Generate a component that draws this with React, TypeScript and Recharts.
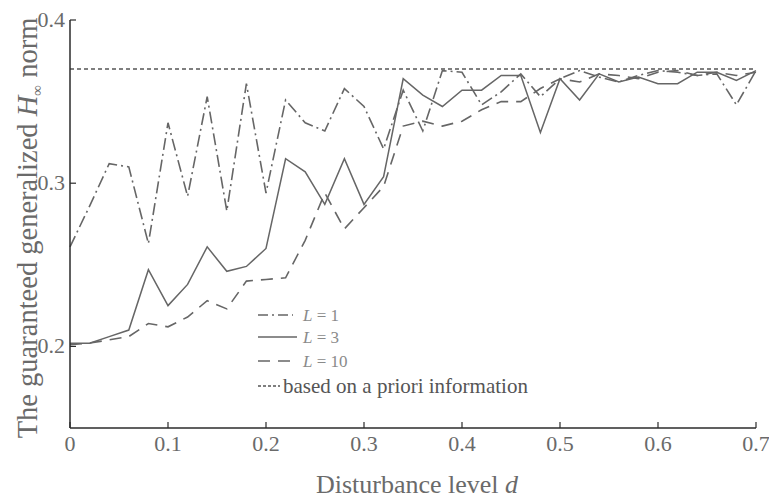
import React from "react";
import {
  LineChart,
  Line,
  XAxis,
  YAxis,
  ReferenceLine,
  Legend,
} from "recharts";

// disturbance level d (x categories)
const dLevels = [
  0, 0.02, 0.04, 0.06, 0.08, 0.1, 0.12, 0.14, 0.16, 0.18, 0.2, 0.22, 0.24,
  0.26, 0.28, 0.3, 0.32, 0.34, 0.36, 0.38, 0.4, 0.42, 0.44, 0.46, 0.48, 0.5,
  0.52, 0.54, 0.56, 0.58, 0.6, 0.62, 0.64, 0.66, 0.68, 0.7,
];

// guaranteed generalized H-inf norm, L = 1
const normL1 = [
  0.261, 0.286, 0.312, 0.31, 0.263, 0.337, 0.292, 0.353, 0.283, 0.361, 0.294,
  0.351, 0.337, 0.332, 0.358, 0.347, 0.321, 0.357, 0.332, 0.369, 0.368, 0.348,
  0.356, 0.367, 0.353, 0.364, 0.369, 0.365, 0.362, 0.366, 0.369, 0.368, 0.366,
  0.367, 0.348, 0.369,
];

// L = 3
const normL3 = [
  0.202, 0.202, 0.206, 0.21, 0.247, 0.225, 0.238, 0.261, 0.246, 0.249, 0.26,
  0.315, 0.307, 0.287, 0.315, 0.287, 0.304, 0.364, 0.354, 0.347, 0.357, 0.357,
  0.366, 0.366, 0.331, 0.364, 0.351, 0.367, 0.362, 0.365, 0.361, 0.361, 0.368,
  0.368, 0.363, 0.369,
];

// L = 10
const normL10 = [
  0.201, 0.202, 0.204, 0.206, 0.214, 0.212, 0.218, 0.228, 0.223, 0.24, 0.241,
  0.242, 0.265, 0.294, 0.272, 0.285, 0.298, 0.335, 0.338, 0.335, 0.338, 0.345,
  0.35, 0.35, 0.358, 0.364, 0.362, 0.367, 0.366, 0.364, 0.368, 0.369, 0.366,
  0.368, 0.366, 0.368,
];

const aPriori = 0.37;

const xTicks = [0, 0.1, 0.2, 0.3, 0.4, 0.5, 0.6, 0.7];
const xTickLabels = ["0", "0.1", "0.2", "0.3", "0.4", "0.5", "0.6", "0.7"];
const yTicks = [0.2, 0.3, 0.4];
const yTickLabels = ["0.2", "0.3", "0.4"];

const data = dLevels.map((d, i) => ({
  d,
  l1: normL1[i],
  l3: normL3[i],
  l10: normL10[i],
}));

const FONT = "'Liberation Serif', 'Times New Roman', serif";
const LINE = "#666666";
const AXIS = "#2b2b2b";
const TEXT = "#6a6a6a";

const XTick = (props: any) => {
  const { x, y, payload } = props;
  const idx = xTicks.indexOf(payload.value);
  return (
    <text x={x} y={y + 23} textAnchor="middle" fontSize={22} fontFamily={FONT} fill={TEXT}>
      {idx >= 0 ? xTickLabels[idx] : payload.value}
    </text>
  );
};

const YTick = (props: any) => {
  const { x, y, payload } = props;
  const idx = yTicks.indexOf(payload.value);
  return (
    <text x={x - 5} y={y + 7} textAnchor="end" fontSize={22} fontFamily={FONT} fill={TEXT}>
      {idx >= 0 ? yTickLabels[idx] : payload.value}
    </text>
  );
};

const XTitle = (props: any) => {
  const vb = props.viewBox || { x: 70, y: 428, width: 686 };
  return (
    <text
      x={vb.x + vb.width / 2 + 4}
      y={vb.y + 65}
      textAnchor="middle"
      fontSize={26}
      fontFamily={FONT}
      fill={TEXT}
    >
      Disturbance level <tspan fontStyle="italic">d</tspan>
    </text>
  );
};

const YTitle = () => {
  const cx = 37;
  const cy = 228;
  return (
    <text
      x={cx}
      y={cy}
      transform={`rotate(-90 ${cx} ${cy})`}
      textAnchor="middle"
      fontSize={28.5}
      fontFamily={FONT}
      fill={TEXT}
    >
      The guaranteed generalized <tspan fontStyle="italic">H</tspan>
      <tspan fontSize={15} dy={5}>∞</tspan>
      <tspan dy={-5}> norm</tspan>
    </text>
  );
};

const legendRows = [
  { label: "1", dash: "10 4 2 4", y: 15, len: 35 },
  { label: "3", dash: undefined, y: 37, len: 39 },
  { label: "10", dash: "12 8", y: 61, len: 35 },
];

const LegendBox = () => (
  <svg width={320} height={100} style={{ display: "block" }}>
    {legendRows.map((r) => (
      <g key={r.label}>
        <line
          x1={8}
          x2={8 + r.len}
          y1={r.y}
          y2={r.y}
          stroke={LINE}
          strokeWidth={1.6}
          strokeDasharray={r.dash}
        />
        <text x={53} y={r.y + 6} fontSize={17} fontFamily={FONT} fill="#8a8a8a">
          <tspan fontStyle="italic">L</tspan> = {r.label}
        </text>
      </g>
    ))}
    <line x1={8} x2={30} y1={86} y2={86} stroke="#555" strokeWidth={1.4} strokeDasharray="3 2" />
    <text x={33} y={93} fontSize={21} fontFamily={FONT} fill="#555">
      based on a priori information
    </text>
  </svg>
);

export default function App() {
  return (
    <div style={{ position: "absolute", left: 0, top: 0, width: 769, height: 499, background: "#fff" }}>
      <LineChart
        width={769}
        height={499}
        data={data}
        margin={{ top: 20, right: 13, bottom: 0, left: 0 }}
      >
        <XAxis
          dataKey="d"
          type="number"
          domain={[0, 0.7]}
          ticks={xTicks}
          height={71}
          tickSize={-6}
          tickMargin={6}
          tick={<XTick />}
          axisLine={{ stroke: AXIS, strokeWidth: 1.5 }}
          tickLine={{ stroke: AXIS, strokeWidth: 1.2 }}
          label={<XTitle />}
        />
        <YAxis
          type="number"
          domain={[0.15, 0.4]}
          ticks={yTicks}
          width={70}
          tickSize={-6}
          tickMargin={6}
          tick={<YTick />}
          axisLine={{ stroke: AXIS, strokeWidth: 1.5 }}
          tickLine={{ stroke: AXIS, strokeWidth: 1.2 }}
          allowDataOverflow
          label={<YTitle />}
        />
        <ReferenceLine
          y={aPriori}
          stroke="#555"
          strokeWidth={1.4}
          strokeDasharray="4 3"
          ifOverflow="extendDomain"
        />
        <Line
          dataKey="l1"
          stroke={LINE}
          strokeWidth={1.6}
          strokeDasharray="12 4 2 4"
          dot={false}
          isAnimationActive={false}
        />
        <Line
          dataKey="l3"
          stroke={LINE}
          strokeWidth={1.5}
          dot={false}
          isAnimationActive={false}
        />
        <Line
          dataKey="l10"
          stroke={LINE}
          strokeWidth={1.6}
          strokeDasharray="12 8"
          dot={false}
          isAnimationActive={false}
        />
        <Legend
          layout="horizontal"
          verticalAlign="middle"
          align="center"
          content={<LegendBox />}
          wrapperStyle={{ position: "absolute", left: 250, top: 300, width: 320, height: 100 }}
        />
      </LineChart>
    </div>
  );
}
